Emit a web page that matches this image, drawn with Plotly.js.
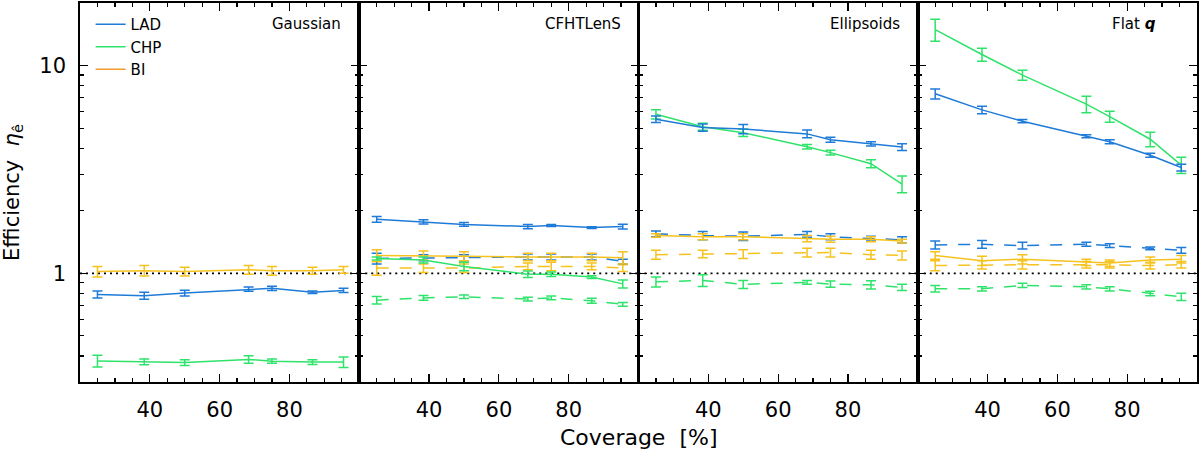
<!DOCTYPE html>
<html>
<head>
<meta charset="utf-8">
<script src="https://cdn.plot.ly/plotly-3.0.1.min.js"></script>
<style>html,body{margin:0;padding:0;background:#fff;}#chart{width:1200px;height:454px;}</style>
</head>
<body>
<div id="chart"></div>
<script>
// ---- data ----
const coverage = [25, 38.4, 50, 68.3, 75, 86.6, 95.5];
const panelNames = ['Gaussian', 'CFHTLenS', 'Ellipsoids', 'Flat <b><i>q</i></b>'];
const xTickVals = [40, 60, 80];
const xMinorVals = [25, 30, 35, 45, 50, 55, 65, 70, 75, 85, 90, 95];
const yTickVals = [1, 10];
const yTickText = ['1', '10'];
const yMinorVals = [0.3, 0.4, 0.5, 0.6, 0.7, 0.8, 0.9, 2, 3, 4, 5, 6, 7, 8, 9, 20];

// Gaussian
const gauss_LAD = [0.792, 0.780, 0.804, 0.840, 0.847, 0.811, 0.828];
const gauss_LAD_err = [0.03, 0.03, 0.025, 0.02, 0.02, 0.012, 0.02];
const gauss_CHP = [0.379, 0.375, 0.372, 0.385, 0.378, 0.374, 0.374];
const gauss_CHP_err = [0.025, 0.012, 0.012, 0.016, 0.009, 0.01, 0.022];
const gauss_BI = [1.02, 1.03, 1.02, 1.04, 1.03, 1.03, 1.04];
const gauss_BI_err = [0.06, 0.06, 0.05, 0.05, 0.05, 0.04, 0.04];

// CFHTLenS
const cfht_LAD = [1.82, 1.77, 1.72, 1.68, 1.70, 1.66, 1.68];
const cfht_LAD_err = [0.06, 0.04, 0.035, 0.04, 0.02, 0.015, 0.045];
const cfht_CHP = [1.18, 1.16, 1.08, 0.99, 0.99, 0.96, 0.89];
const cfht_CHP_err = [0.02, 0.04, 0.05, 0.035, 0.025, 0.015, 0.04];
const cfht_BI = [1.22, 1.22, 1.21, 1.20, 1.20, 1.20, 1.19];
const cfht_BI_err = [0.08, 0.06, 0.06, 0.05, 0.05, 0.05, 0.08];
const cfht_LAD_d = [1.18, 1.19, 1.19, 1.20, 1.20, 1.20, 1.14];
const cfht_LAD_d_err = [0.07, 0.04, 0.04, 0.04, 0.04, 0.04, 0.03];
const cfht_CHP_d = [0.743, 0.762, 0.771, 0.752, 0.762, 0.738, 0.709];
const cfht_CHP_d_err = [0.03, 0.02, 0.015, 0.015, 0.015, 0.02, 0.015];
const cfht_BI_d = [1.06, 1.06, 1.06, 1.08, 1.08, 1.08, 1.06];
const cfht_BI_d_err = [0.08, 0.05, 0.05, 0.04, 0.05, 0.04, 0.04];

// Ellipsoids
const ell_LAD = [5.52, 5.03, 4.95, 4.69, 4.40, 4.20, 4.05];
const ell_LAD_err = [0.2, 0.2, 0.25, 0.2, 0.12, 0.1, 0.15];
const ell_CHP = [5.83, 5.08, 4.75, 4.07, 3.81, 3.37, 2.69];
const ell_CHP_err = [0.3, 0.2, 0.2, 0.1, 0.1, 0.15, 0.25];
const ell_BI = [1.52, 1.50, 1.50, 1.47, 1.46, 1.46, 1.43];
const ell_BI_err = [0.03, 0.05, 0.05, 0.05, 0.05, 0.04, 0.03];
const ell_LAD_d = [1.55, 1.52, 1.51, 1.54, 1.50, 1.47, 1.45];
const ell_LAD_d_err = [0.05, 0.07, 0.07, 0.05, 0.05, 0.04, 0.05];
const ell_CHP_d = [0.91, 0.925, 0.885, 0.905, 0.888, 0.881, 0.857];
const ell_CHP_d_err = [0.05, 0.06, 0.04, 0.02, 0.03, 0.04, 0.03];
const ell_BI_d = [1.23, 1.24, 1.24, 1.26, 1.26, 1.23, 1.22];
const ell_BI_d_err = [0.06, 0.05, 0.06, 0.06, 0.06, 0.06, 0.06];

// Flat q
const flat_LAD = [7.31, 6.12, 5.40, 4.57, 4.30, 3.70, 3.23];
const flat_LAD_err = [0.4, 0.25, 0.1, 0.08, 0.1, 0.08, 0.12];
const flat_CHP = [14.9, 11.3, 9.0, 6.52, 5.68, 4.42, 3.32];
const flat_CHP_err = [1.8, 0.8, 0.5, 0.6, 0.35, 0.35, 0.3];
const flat_BI = [1.22, 1.15, 1.17, 1.13, 1.12, 1.16, 1.17];
const flat_BI_err = [0.05, 0.06, 0.06, 0.04, 0.04, 0.04, 0.05];
const flat_LAD_d = [1.37, 1.38, 1.36, 1.38, 1.36, 1.32, 1.29];
const flat_LAD_d_err = [0.06, 0.06, 0.05, 0.03, 0.03, 0.02, 0.04];
const flat_CHP_d = [0.843, 0.843, 0.875, 0.861, 0.843, 0.801, 0.771];
const flat_CHP_d_err = [0.03, 0.02, 0.02, 0.02, 0.02, 0.02, 0.03];
const flat_BI_d = [1.09, 1.10, 1.10, 1.10, 1.10, 1.09, 1.10];
const flat_BI_d_err = [0.06, 0.05, 0.05, 0.04, 0.04, 0.04, 0.04];

// ---- styles ----
const COL = {LAD: '#1f7bd8', CHP: '#2fe36a', BI: '#f6c21e', BIleg: '#f39a2c'};
const FONT = 'DejaVu Sans, Liberation Sans, sans-serif';

const traces = [];
function addSeries(panel, y, err, color, dashed) {
  const ax = panel === 1 ? '' : String(panel);
  traces.push({
    type: 'scatter', mode: 'lines',
    x: coverage, y: y,
    xaxis: 'x' + ax, yaxis: 'y' + ax,
    line: {color: color, width: 1.5, dash: dashed ? '12px,11px' : 'solid'},
    error_y: {type: 'data', array: err, visible: true, color: color, thickness: 1.5, width: 5},
    showlegend: false, hoverinfo: 'skip'
  });
}

addSeries(1, gauss_BI, gauss_BI_err, COL.BI, false);
addSeries(1, gauss_LAD, gauss_LAD_err, COL.LAD, false);
addSeries(1, gauss_CHP, gauss_CHP_err, COL.CHP, false);

addSeries(2, cfht_BI_d, cfht_BI_d_err, COL.BI, true);
addSeries(2, cfht_CHP_d, cfht_CHP_d_err, COL.CHP, true);
addSeries(2, cfht_LAD_d, cfht_LAD_d_err, COL.LAD, true);
addSeries(2, cfht_BI, cfht_BI_err, COL.BI, false);
addSeries(2, cfht_CHP, cfht_CHP_err, COL.CHP, false);
addSeries(2, cfht_LAD, cfht_LAD_err, COL.LAD, false);

addSeries(3, ell_BI_d, ell_BI_d_err, COL.BI, true);
addSeries(3, ell_CHP_d, ell_CHP_d_err, COL.CHP, true);
addSeries(3, ell_LAD_d, ell_LAD_d_err, COL.LAD, true);
addSeries(3, ell_BI, ell_BI_err, COL.BI, false);
addSeries(3, ell_CHP, ell_CHP_err, COL.CHP, false);
addSeries(3, ell_LAD, ell_LAD_err, COL.LAD, false);

addSeries(4, flat_BI_d, flat_BI_d_err, COL.BI, true);
addSeries(4, flat_CHP_d, flat_CHP_d_err, COL.CHP, true);
addSeries(4, flat_LAD_d, flat_LAD_d_err, COL.LAD, true);
addSeries(4, flat_BI, flat_BI_err, COL.BI, false);
addSeries(4, flat_CHP, flat_CHP_err, COL.CHP, false);
addSeries(4, flat_LAD, flat_LAD_err, COL.LAD, false);

// legend entries
[['LAD', COL.LAD], ['CHP', COL.CHP], ['BI', COL.BIleg]].forEach(([n, c]) => {
  traces.push({type: 'scatter', mode: 'lines', x: [null], y: [null], name: n,
    line: {color: c, width: 1.5}, showlegend: true, hoverinfo: 'skip'});
});

const layout = {
  width: 1200, height: 454,
  margin: {l: 80, r: 3, t: 3, b: 72},
  paper_bgcolor: '#fff', plot_bgcolor: '#fff',
  font: {family: FONT, size: 20, color: '#000'},
  showlegend: true,
  legend: {x: 0.0095, xanchor: 'left', y: 0.987, yanchor: 'top',
    bgcolor: 'rgba(0,0,0,0)', font: {size: 15, family: FONT},
    tracegroupgap: 0, itemwidth: 30},
  shapes: [],
  annotations: []
};

for (let i = 1; i <= 4; i++) {
  const s = i === 1 ? '' : String(i);
  layout['xaxis' + s] = {
    domain: [(i - 1) / 4, i / 4], range: [20, 100], anchor: 'y' + s,
    showline: true, linecolor: '#000', linewidth: 1.8, mirror: 'ticks',
    ticks: 'inside', ticklen: 8, tickwidth: 1.2, tickcolor: '#000',
    tickvals: xTickVals, ticktext: xTickVals.map(String),
    ticklabelstandoff: 8,
    minor: {tickvals: xMinorVals, ticks: 'inside', ticklen: 4, tickwidth: 1.2, tickcolor: '#000', showgrid: false},
    showgrid: false, zeroline: false, fixedrange: true,
    tickfont: {size: 21, family: FONT}
  };
  layout['yaxis' + s] = {
    type: 'log', range: [Math.log10(0.3), Math.log10(20)], anchor: 'x' + s,
    showline: true, linecolor: '#000', linewidth: 1.8, mirror: 'ticks',
    ticks: 'inside', ticklen: 8, tickwidth: 1.2, tickcolor: '#000',
    tickvals: yTickVals, ticktext: yTickText,
    showticklabels: i === 1, ticklabelstandoff: 8,
    minor: {tickvals: yMinorVals, ticks: 'inside', ticklen: 4, tickwidth: 1.2, tickcolor: '#000', showgrid: false},
    showgrid: false, zeroline: false, fixedrange: true,
    tickfont: {size: 21, family: FONT}
  };
  layout.shapes.push({type: 'line', xref: 'x' + s + ' domain', x0: 0, x1: 1,
    yref: 'y' + s, y0: 1, y1: 1, line: {color: '#000', width: 1.6, dash: '2px,4px'}, layer: 'below'});
  layout.annotations.push({text: panelNames[i - 1], xref: 'x' + s + ' domain', yref: 'y' + s + ' domain',
    x: 1, y: 1, xanchor: 'right', yanchor: 'middle', xshift: i === 4 ? -39 : -16, yshift: -21,
    showarrow: false, font: {size: 15, family: FONT}});
}
layout.yaxis.title = {text: 'Efficiency  <i>η</i><sub>ê</sub>', font: {size: 21, family: FONT}, standoff: 14};
layout.annotations.push({text: 'Coverage  [%]', xref: 'paper', yref: 'paper', x: 0.5, y: 0,
  xanchor: 'center', yanchor: 'middle', yshift: -55, showarrow: false, font: {size: 22, family: FONT}});

Plotly.newPlot('chart', traces, layout, {staticPlot: true, displayModeBar: false});
</script>
</body>
</html>
